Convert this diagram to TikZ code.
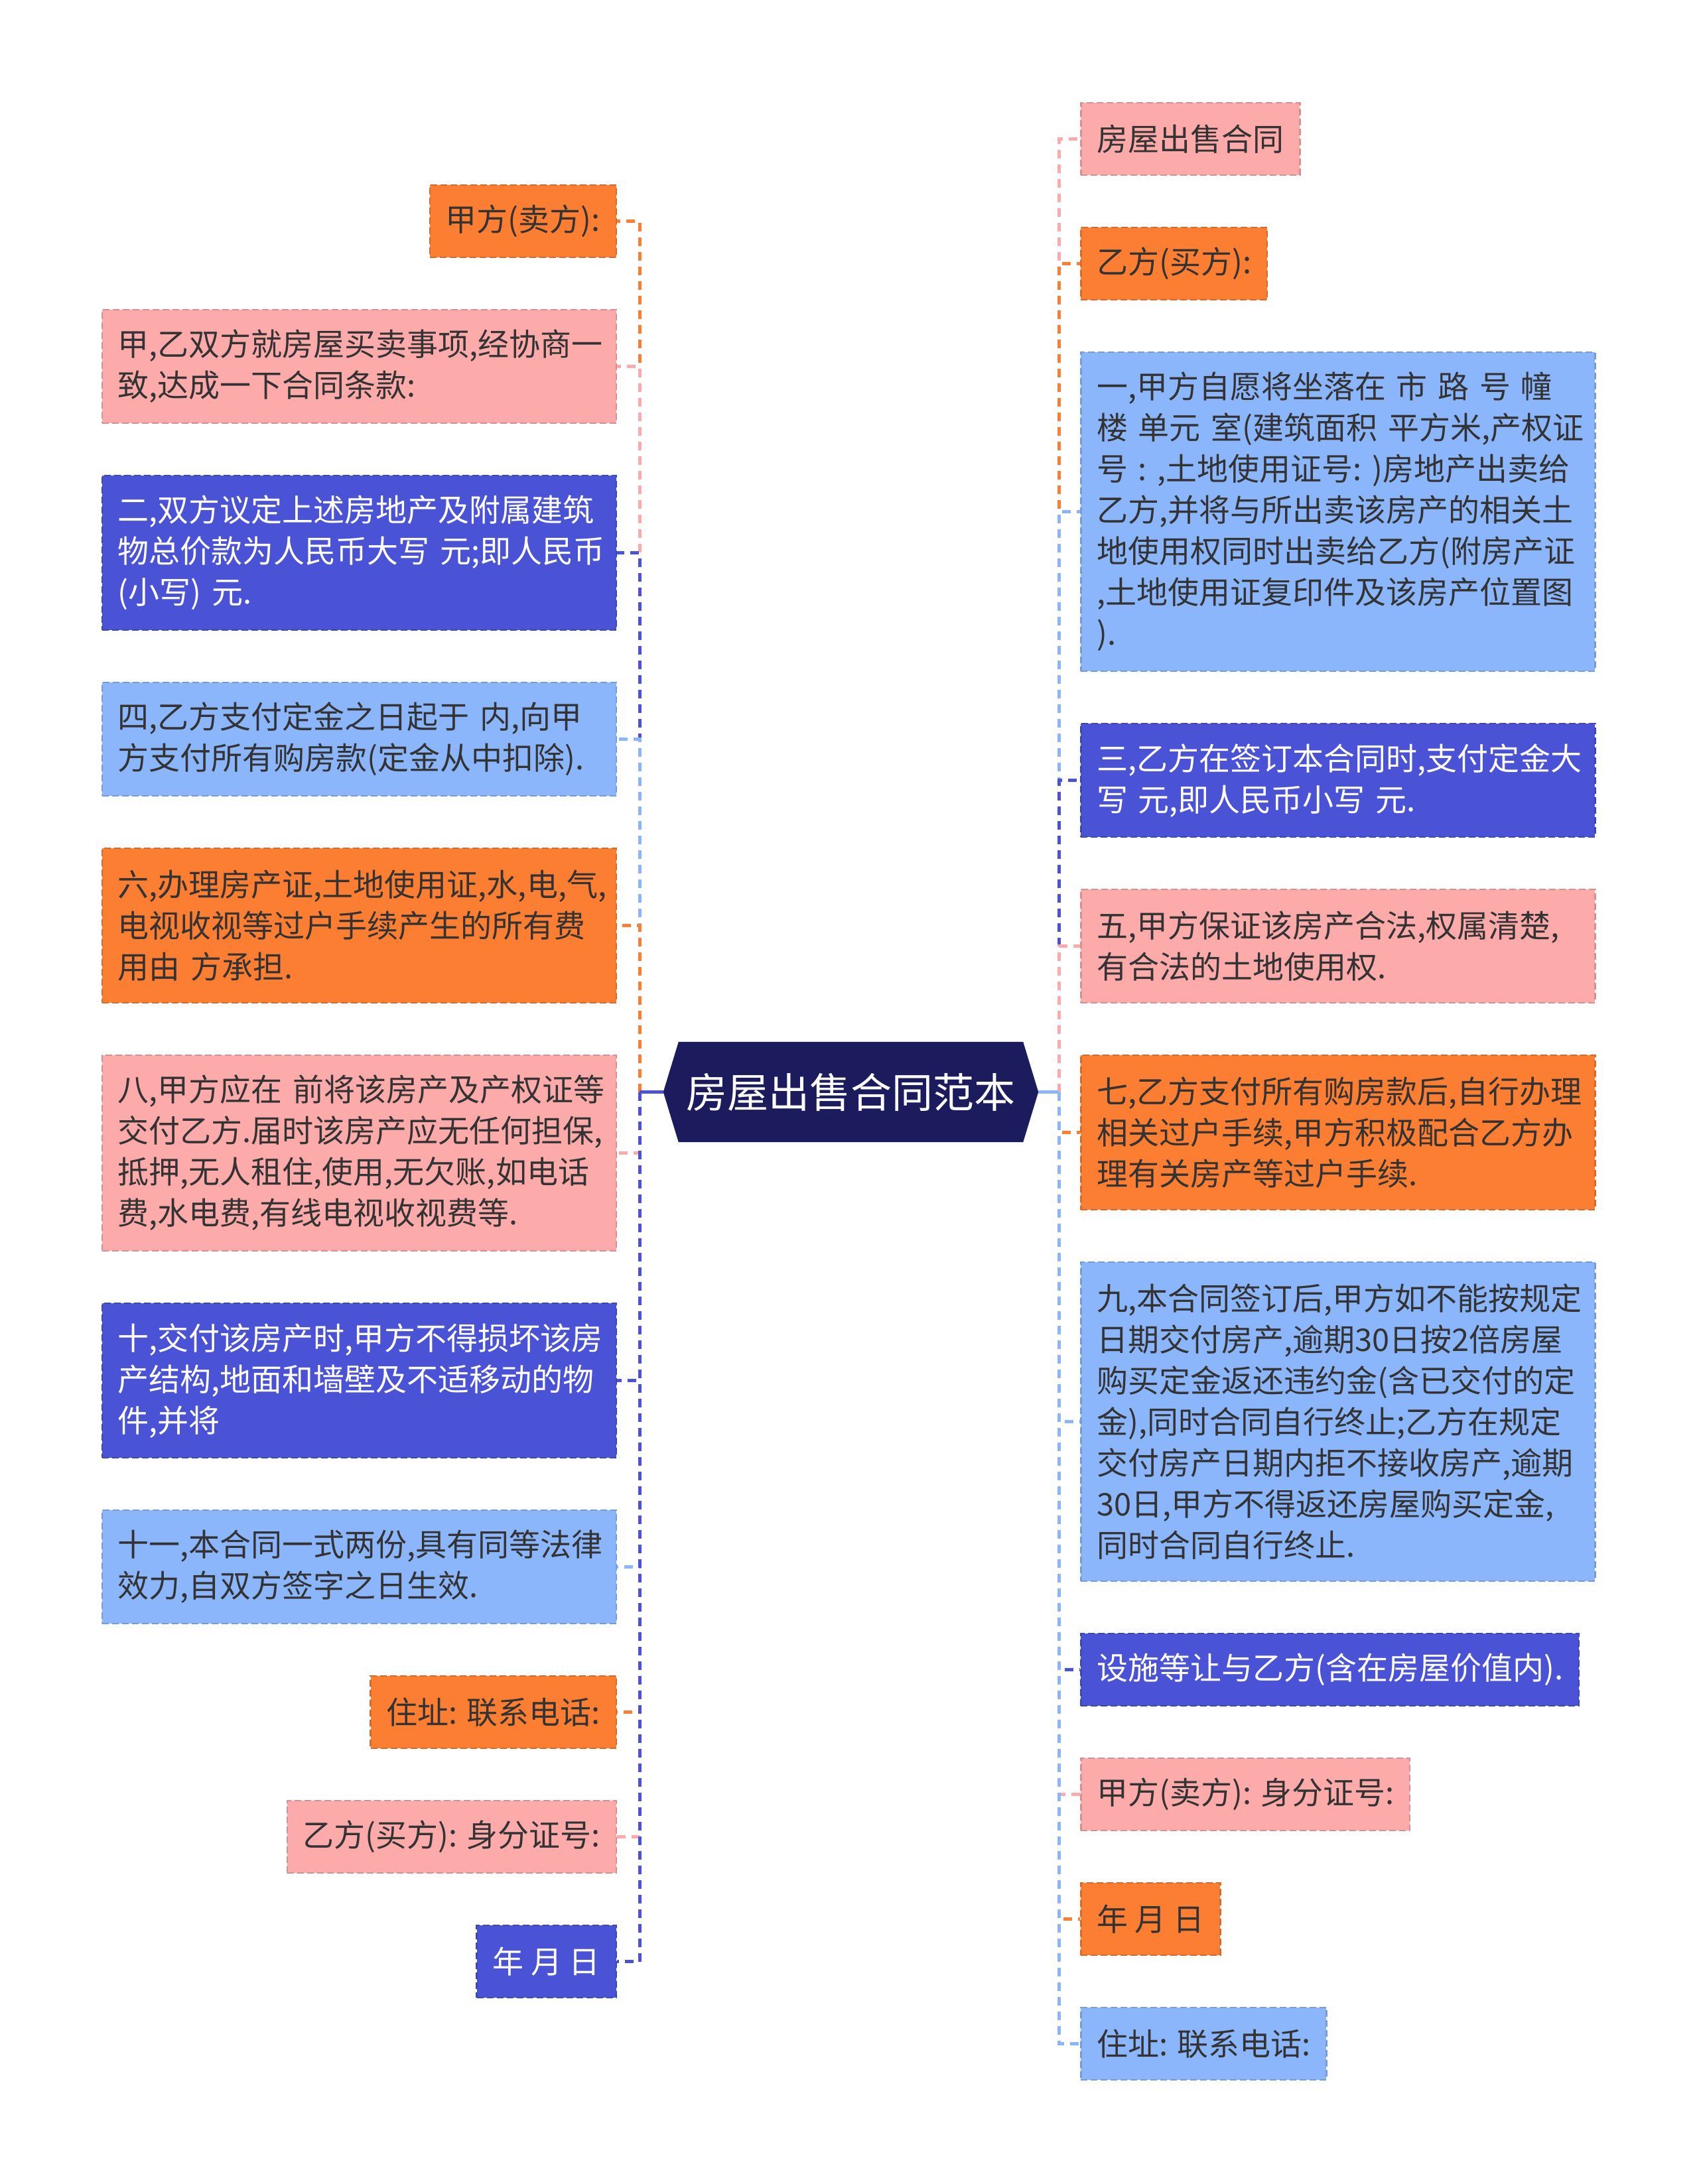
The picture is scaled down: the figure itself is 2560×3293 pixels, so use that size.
\documentclass[tikz,border=0pt]{standalone}
\usepackage{fontspec}
\newfontfamily\cjk{Noto Sans CJK SC}
\usetikzlibrary{backgrounds}
\definecolor{cOr}{HTML}{FC7E32}
\definecolor{cPk}{HTML}{FDAAAA}
\definecolor{cPu}{HTML}{4A52D6}
\definecolor{cLb}{HTML}{8BB6FC}
\definecolor{cNv}{HTML}{1B1B5E}
\definecolor{cTx}{HTML}{333333}
\tikzset{
  box/.style={rectangle, inner xsep=24pt, inner ysep=0pt, minimum height=109pt,
    font=\cjk\fontsize{47}{62}\selectfont, text=cTx, line width=2.5pt,
    dash pattern=on 10pt off 5pt},
  wide/.style={text width=727pt, align=left},
  h2/.style={minimum height=171pt},
  h3/.style={minimum height=233pt},
  h4/.style={minimum height=295pt},
  h7/.style={minimum height=481pt},
  bOr/.style={box, fill=cOr, draw=cOr!85!black},
  bPk/.style={box, fill=cPk, draw=cPk!85!black},
  bPu/.style={box, fill=cPu, draw=cPu!85!black, text=white},
  bLb/.style={box, fill=cLb, draw=cLb!85!black},
  lft/.style={anchor=east},
  rgt/.style={anchor=west},
  conn/.style={line width=5pt, dash pattern=on 13pt off 9pt},
  stub/.style={line width=5pt},
}
\begin{document}
\begin{tikzpicture}[x=1pt,y=-1pt]
\useasboundingbox (0,0) rectangle (2560,3293);
\begin{scope}[on background layer]
\fill[white] (0,0) rectangle (2560,3293);
\end{scope}

% centre
\node[minimum width=565pt, minimum height=151pt, inner sep=0pt, text=white,
  font=\cjk\fontsize{62}{70}\selectfont] (c) at (1282.5,1646.5) {房屋出售合同范本};
\begin{scope}[on background layer]
\fill[cNv] (c.west) -- ([xshift=23pt]c.north west) -- ([xshift=-23pt]c.north east)
  -- (c.east) -- ([xshift=-23pt]c.south east) -- ([xshift=23pt]c.south west) -- cycle;
\end{scope}
\coordinate (lt) at (964,1646.5);
\coordinate (rt) at (1596,1646.5);

% left
\node[bOr, lft] (L1) at (930,333.5) {甲方(卖方):};
\node[bPk, lft, wide, h2] (L2) at (930,552.5) {甲,乙双方就房屋买卖事项,经协商一\\致,达成一下合同条款:};
\node[bPu, lft, wide, h3] (L3) at (930,833.5) {二,双方议定上述房地产及附属建筑\\物总价款为人民币大写~元;即人民币\\(小写)~元.};
\node[bLb, lft, wide, h2] (L4) at (930,1114.5) {四,乙方支付定金之日起于~内,向甲\\方支付所有购房款(定金从中扣除).};
\node[bOr, lft, wide, h3] (L5) at (930,1395.5) {六,办理房产证,土地使用证,水,电,气,\\电视收视等过户手续产生的所有费\\用由~方承担.};
\node[bPk, lft, wide, h4] (L6) at (930,1738.5) {八,甲方应在~前将该房产及产权证等\\交付乙方.届时该房产应无任何担保,\\抵押,无人租住,使用,无欠账,如电话\\费,水电费,有线电视收视费等.};
\node[bPu, lft, wide, h3] (L7) at (930,2081.5) {十,交付该房产时,甲方不得损坏该房\\产结构,地面和墙壁及不适移动的物\\件,并将};
\node[bLb, lft, wide, h2] (L8) at (930,2362.5) {十一,本合同一式两份,具有同等法律\\效力,自双方签字之日生效.};
\node[bOr, lft] (L9) at (930,2581.5) {住址: 联系电话:};
\node[bPk, lft] (L10) at (930,2769.5) {乙方(买方): 身分证号:};
\node[bPu, lft] (L11) at (930,2957.5) {年 月 日};

% right
\node[bPk, rgt] (R1) at (1628,209.5) {房屋出售合同};
\node[bOr, rgt] (R2) at (1628,397.5) {乙方(买方):};
\node[bLb, rgt, wide, h7] (R3) at (1628,771.5) {一,甲方自愿将坐落在~市~路~号~幢\\楼~单元~室(建筑面积~平方米,产权证\\号~:~,土地使用证号:~)房地产出卖给\\乙方,并将与所出卖该房产的相关土\\地使用权同时出卖给乙方(附房产证\\,土地使用证复印件及该房产位置图\\).};
\node[bPu, rgt, wide, h2] (R4) at (1628,1176.5) {三,乙方在签订本合同时,支付定金大\\写~元,即人民币小写~元.};
\node[bPk, rgt, wide, h2] (R5) at (1628,1426.5) {五,甲方保证该房产合法,权属清楚,\\有合法的土地使用权.};
\node[bOr, rgt, wide, h3] (R6) at (1628,1707.5) {七,乙方支付所有购房款后,自行办理\\相关过户手续,甲方积极配合乙方办\\理有关房产等过户手续.};
\node[bLb, rgt, wide, h7] (R7) at (1628,2143.5) {九,本合同签订后,甲方如不能按规定\\日期交付房产,逾期30日按2倍房屋\\购买定金返还违约金(含已交付的定\\金),同时合同自行终止;乙方在规定\\交付房产日期内拒不接收房产,逾期\\30日,甲方不得返还房屋购买定金,\\同时合同自行终止.};
\node[bPu, rgt] (R8) at (1628,2517.5) {设施等让与乙方(含在房屋价值内).};
\node[bPk, rgt] (R9) at (1628,2705.5) {甲方(卖方): 身分证号:};
\node[bOr, rgt] (R10) at (1628,2893.5) {年 月 日};
\node[bLb, rgt] (R11) at (1628,3081.5) {住址: 联系电话:};

\begin{scope}[on background layer]
% connectors left
\draw[conn, cOr] (lt) |- (L1.east);
\draw[conn, cPk] (lt) |- (L2.east);
\draw[conn, cPu] (lt) |- (L3.east);
\draw[conn, cLb] (lt) |- (L4.east);
\draw[conn, cOr] (lt) |- (L5.east);
\draw[conn, cPk] (lt) |- (L6.east);
\draw[conn, cPu] (lt) |- (L7.east);
\draw[conn, cLb] (lt) |- (L8.east);
\draw[conn, cOr] (lt) |- (L9.east);
\draw[conn, cPk] (lt) |- (L10.east);
\draw[conn, cPu] (lt) |- (L11.east);
\draw[stub, cPu] (c.west) -- (lt);
% connectors right
\draw[conn, cPk] (rt) |- (R1.west);
\draw[conn, cOr] (rt) |- (R2.west);
\draw[conn, cLb] (rt) |- (R3.west);
\draw[conn, cPu] (rt) |- (R4.west);
\draw[conn, cPk] (rt) |- (R5.west);
\draw[conn, cOr] (rt) |- (R6.west);
\draw[conn, cLb] (rt) |- (R7.west);
\draw[conn, cPu] (rt) |- (R8.west);
\draw[conn, cPk] (rt) |- (R9.west);
\draw[conn, cOr] (rt) |- (R10.west);
\draw[conn, cLb] (rt) |- (R11.west);
\draw[stub, cLb] (c.east) -- (rt);
\end{scope}
\end{tikzpicture}
\end{document}
